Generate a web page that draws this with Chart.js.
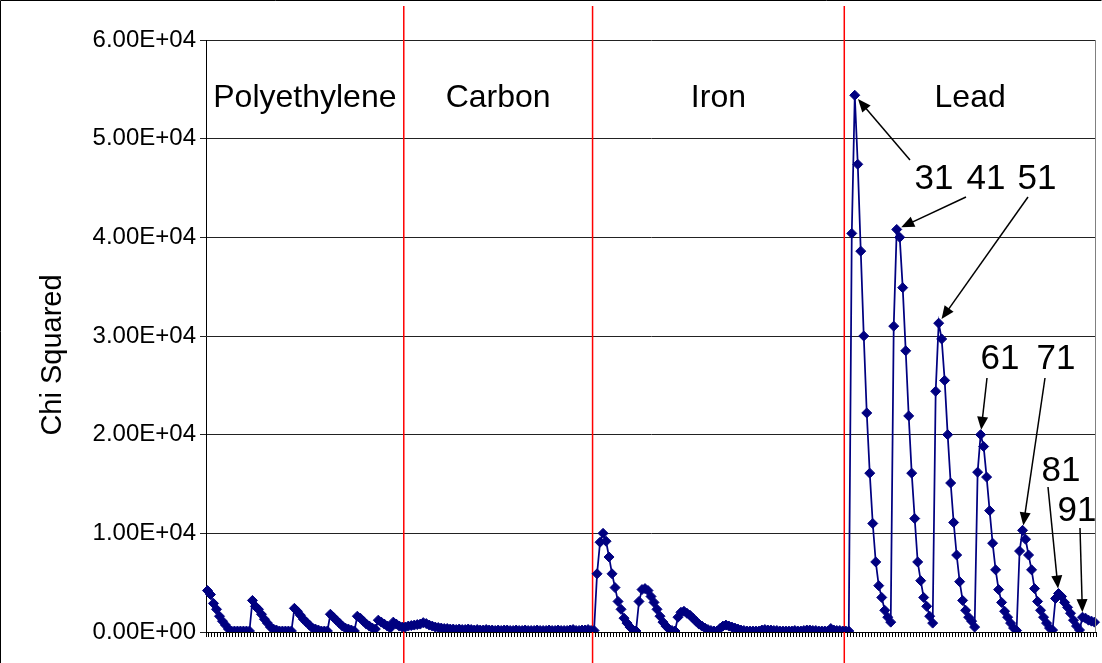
<!DOCTYPE html>
<html>
<head>
<meta charset="utf-8">
<title>Chi Squared by material</title>
<script src="https://cdn.jsdelivr.net/npm/chart.js@4.4.1/dist/chart.umd.min.js"></script>
<style>
  html, body { margin: 0; padding: 0; background: #fff; }
  canvas { display: block; }
</style>
</head>
<body>
<canvas id="chart" width="1102" height="663"></canvas>
<script>
// chi squared per fit, one block per target material
var polyethylene = [
  4200, 3800, 2900, 2300, 1600, 1100, 700, 300, 100, 100, 100, 100, 100, 100, 100,
  3200, 2600, 2300, 1800, 1300, 900, 500, 300, 200, 100, 100, 100, 100, 100,
  2400, 2100, 1700, 1300, 1000, 700, 400, 300, 200, 100, 100, 100,
  1800, 1500, 1200, 900, 600, 400, 300, 200, 100,
  1600, 1400, 1100, 800, 600, 400, 300,
  1200, 1000, 800, 600, 400,
  1000, 800, 600, 500
];
var carbon = [
  500, 600, 650, 700, 750, 800, 950, 850, 700, 600,
  500, 450, 400, 350, 350, 300, 300, 250, 300, 250,
  250, 300, 250, 200, 250, 200, 200, 250, 200, 200,
  150, 200, 150, 200, 200, 150, 150, 200, 150, 150,
  200, 150, 150, 150, 200, 150, 150, 150, 200, 150,
  150, 200, 150, 150, 150, 200, 250, 150, 150, 200,
  200, 250, 150
];
var iron = [
  150,
  5900, 9100, 10000, 9200, 7600, 5900, 4500, 3100, 2300, 1400, 900, 500, 200, 100,
  3100, 4300, 4400, 4200, 3600, 3000, 2300, 1600, 1000, 600, 300, 150, 100,
  1500, 2000, 2100, 1900, 1700, 1400, 1100, 800, 600, 400, 250, 150, 100, 100,
  350, 600, 700, 600, 500, 400, 300, 200, 150, 100, 100, 100, 100, 100,
  200, 250, 200, 200, 150, 150, 100, 100, 100, 100, 100, 150, 100, 100,
  150, 200, 200, 150, 150, 100, 100, 100, 100, 350, 200, 150, 150, 100
];
var lead = [
  100, 100,
  40400, 54400, 47400, 38600, 30000, 22200, 16100, 11000, 7100, 4700, 3500, 2200, 1500, 1000,
  31000, 40800, 40000, 34900, 28500, 21900, 16100, 11500, 7100, 5200, 3500, 2600, 1600, 900,
  24400, 31300, 29700, 25500, 20000, 15100, 11100, 7800, 5100, 3200, 2200, 1500, 1100, 500,
  16200, 20000, 18800, 15700, 12300, 9000, 6300, 4300, 3000, 2100, 1500, 900, 400, 150,
  8200, 10300, 9400, 7800, 6300, 4400, 3100, 2200, 1500, 900, 400, 200,
  3400, 3900, 3600, 3000, 2500, 1900, 1200, 600, 200,
  1500, 1400, 1200, 1100, 1000
];

var materials = ["Polyethylene", "Carbon", "Iron", "Lead"];
var blocks = [polyethylene, carbon, iron, lead];

var yMin = 0, yMax = 60000, yStep = 10000;

// numbered peaks inside the lead block
var peakNames = ["31", "41", "51", "61", "71", "81", "91"];
var peakIndex = [3, 17, 31, 45, 59, 71, 79];

// where the numbers sit and where their arrows start
var peakTextPos = [[934, 179], [986, 179], [1037, 179], [1000, 359], [1056, 359], [1061, 471], [1077, 511]];
var arrowTail = [[910, 160], [966, 197], [1028, 197], [987, 378], [1045, 378], [1048, 487], [1080, 528]];

var FONT = "'Liberation Sans', Arial, sans-serif";

var values = [].concat(polyethylene, carbon, iron, lead);
var labels = values.map(function (v, i) { return i + 1; });

// block boundaries as category counts
var bounds = [];
var acc = 0;
blocks.forEach(function (b) { bounds.push([acc, acc + b.length]); acc += b.length; });
var leadStart = bounds[3][0];

function sci(v) {
  if (v === 0) return "0.00E+00";
  var e = Math.floor(Math.log10(v));
  var m = v / Math.pow(10, e);
  return m.toFixed(2) + "E+" + (e < 10 ? "0" + e : e);
}

function arrow(ctx, x0, y0, x1, y1) {
  var a = Math.atan2(y1 - y0, x1 - x0), len = 13, half = 5.5;
  ctx.beginPath();
  ctx.moveTo(x0, y0);
  ctx.lineTo(x1 - Math.cos(a) * len * 0.8, y1 - Math.sin(a) * len * 0.8);
  ctx.stroke();
  ctx.beginPath();
  ctx.moveTo(x1, y1);
  ctx.lineTo(x1 - Math.cos(a) * len - Math.sin(a) * half, y1 - Math.sin(a) * len + Math.cos(a) * half);
  ctx.lineTo(x1 - Math.cos(a) * len + Math.sin(a) * half, y1 - Math.sin(a) * len - Math.cos(a) * half);
  ctx.closePath();
  ctx.fill();
}

var overlay = {
  id: "overlay",
  beforeDatasetsDraw: function (chart) {
    var ctx = chart.ctx, x = chart.scales.x;
    ctx.save();
    ctx.strokeStyle = "#ff0000";
    ctx.lineWidth = 1.5;
    for (var i = 1; i < bounds.length; i++) {
      var px = x.getPixelForValue(bounds[i][0] - 0.5);
      ctx.beginPath();
      ctx.moveTo(px, 6);
      ctx.lineTo(px, chart.height);
      ctx.stroke();
    }
    ctx.restore();
  },
  afterDraw: function (chart) {
    var ctx = chart.ctx, x = chart.scales.x, y = chart.scales.y, area = chart.chartArea;
    ctx.save();

    // outer frame and right edge of the plot
    ctx.strokeStyle = "#000";
    ctx.lineWidth = 1;
    ctx.beginPath();
    ctx.moveTo(0.5, chart.height);
    ctx.lineTo(0.5, 0.5);
    ctx.lineTo(chart.width - 0.5, 0.5);
    ctx.stroke();
    ctx.strokeStyle = "#808080";
    ctx.beginPath();
    ctx.moveTo(Math.round(area.right) - 0.5, area.top);
    ctx.lineTo(Math.round(area.right) - 0.5, area.bottom);
    ctx.stroke();

    // axis title, a little below the middle of the plot
    ctx.fillStyle = "#000";
    ctx.font = "29px " + FONT;
    ctx.textAlign = "center";
    ctx.textBaseline = "middle";
    ctx.save();
    ctx.translate(53, (area.top + area.bottom) / 2 + 19);
    ctx.rotate(-Math.PI / 2);
    ctx.fillText("Chi Squared", 0, 0);
    ctx.restore();

    // material names, centred in each block
    ctx.font = "32px " + FONT;
    materials.forEach(function (name, i) {
      var l = x.getPixelForValue(bounds[i][0] - 0.5);
      var r = i === materials.length - 1 ? area.right : x.getPixelForValue(bounds[i][1] - 0.5);
      ctx.fillText(name, (l + r) / 2, area.top + 58);
    });

    // numbered lead peaks with arrows
    ctx.font = "35px " + FONT;
    ctx.lineWidth = 1.5;
    ctx.strokeStyle = "#000";
    peakNames.forEach(function (name, i) {
      var k = leadStart + peakIndex[i];
      var px = x.getPixelForValue(k), py = y.getPixelForValue(values[k]);
      var tx = arrowTail[i][0], ty = arrowTail[i][1];
      var d = Math.hypot(tx - px, ty - py);
      var hx = px + (tx - px) / d * 5, hy = py + (ty - py) / d * 5;
      arrow(ctx, tx, ty, hx, hy);
      ctx.fillText(name, peakTextPos[i][0], peakTextPos[i][1]);
    });
    ctx.restore();
  }
};

var ctx = document.getElementById("chart").getContext("2d");
var chart = new Chart(ctx, {
  type: "line",
  data: {
    labels: labels,
    datasets: [{
      label: "Chi Squared",
      data: values,
      borderColor: "#000080",
      backgroundColor: "#000080",
      borderWidth: 1.75,
      pointStyle: "rectRot",
      pointRadius: 5,
      pointBorderWidth: 1,
      pointBorderColor: "#000080",
      pointBackgroundColor: "#000080",
      tension: 0
    }]
  },
  options: {
    responsive: false,
    devicePixelRatio: 1,
    animation: false,
    layout: { padding: { top: 40, right: 5, left: 0, bottom: 0 } },
    plugins: {
      legend: { display: false },
      tooltip: { enabled: false }
    },
    scales: {
      x: {
        type: "category",
        offset: true,
        ticks: { display: false },
        grid: { display: true, drawOnChartArea: false, drawTicks: true, tickLength: 5, color: "#000", offset: true },
        border: { color: "#000", width: 1 },
        afterFit: function (s) { s.height = 31; }
      },
      y: {
        min: yMin,
        max: yMax,
        ticks: {
          stepSize: yStep,
          callback: function (v) { return sci(v); },
          color: "#000",
          font: { family: FONT, size: 24 },
          padding: 4
        },
        grid: { color: "#222", tickLength: 6 },
        border: { color: "#000", width: 1 },
        afterFit: function (s) { s.width = 206; }
      }
    }
  },
  plugins: [overlay]
});
</script>
</body>
</html>
